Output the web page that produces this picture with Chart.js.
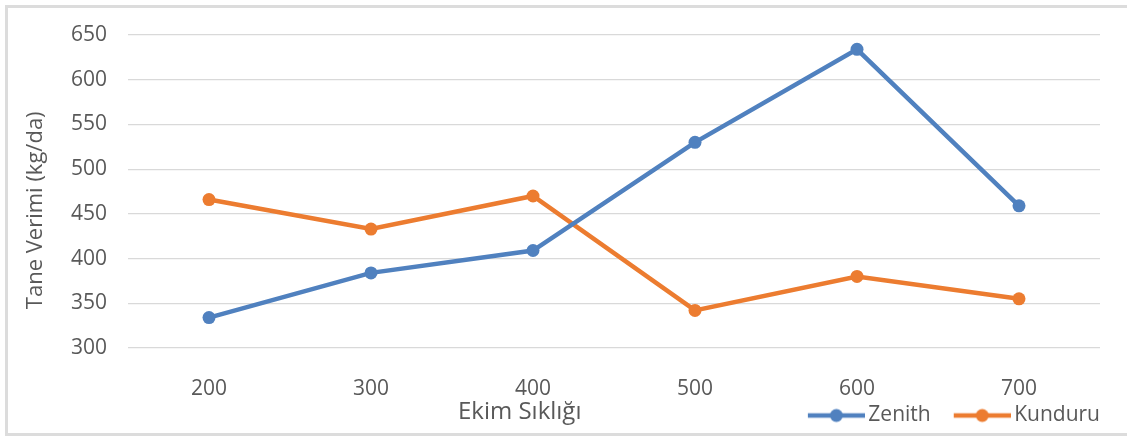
<!DOCTYPE html>
<html lang="tr">
<head>
<meta charset="utf-8">
<title>Tane Verimi</title>
<script src="https://cdn.jsdelivr.net/npm/chart.js@4/dist/chart.umd.min.js"></script>
<style>
  html, body { margin: 0; padding: 0; background: #ffffff; overflow: hidden; }
  #wrap { position: relative; width: 1127px; height: 436px; }
  #chart { position: absolute; left: 0; top: 0; }
  #frame {
    position: absolute; left: 5px; top: 5px; width: 1200px; height: 431px;
    box-sizing: border-box; border: 3px solid #dcdcdc; pointer-events: none;
  }
</style>
</head>
<body>
<div id="wrap">
  <canvas id="chart" width="1127" height="436"></canvas>
  <div id="frame"></div>
</div>
<script>
// Ekim sıklığına göre tane verimi (kg/da)
const categories = ['200', '300', '400', '500', '600', '700'];
const zenith = [334, 384, 409, 530, 634, 459];
const kunduru = [466, 433, 470, 342, 380, 355];
const seriesNames = ['Zenith', 'Kunduru'];
const yTicks = [300, 350, 400, 450, 500, 550, 600, 650];
const xTitle = 'Ekim Sıklığı';
const yTitle = 'Tane Verimi (kg/da)';

const BLUE = '#5081bf';
const ORANGE = '#ec7c30';
const TEXT = '#595959';
const FONT = '"Open Sans", "Liberation Sans", sans-serif';

// Legend swatch: a short line with a dot in the middle, placed in the right
// part of the image so the blank left part spaces the items apart.
function swatch(color) {
  const c = document.createElement('canvas');
  c.width = 87; c.height = 16;
  const g = c.getContext('2d');
  g.strokeStyle = color;
  g.lineWidth = 4.5;
  g.beginPath(); g.moveTo(30, 8); g.lineTo(87, 8); g.stroke();
  g.fillStyle = color;
  g.beginPath(); g.arc(58.5, 8, 6.5, 0, Math.PI * 2); g.fill();
  return c;
}

// Axis captions: the x caption shares the bottom row with the legend.
const axisCaptions = {
  id: 'axisCaptions',
  afterDraw(chart) {
    const { ctx, chartArea: a } = chart;
    ctx.save();
    ctx.fillStyle = TEXT;
    ctx.textBaseline = 'middle';
    ctx.textAlign = 'center';
    ctx.font = '24px ' + FONT;
    ctx.fillText(xTitle, a.left + 0.403 * (a.right - a.left), a.bottom + 64);
    ctx.translate(36, a.top + 0.56 * (a.bottom - a.top));
    ctx.rotate(-Math.PI / 2);
    ctx.font = '22px ' + FONT;
    ctx.fillText(yTitle, 0, 0);
    ctx.restore();
  }
};

const colors = [BLUE, ORANGE];
const swatches = colors.map(swatch);

new Chart(document.getElementById('chart'), {
  type: 'line',
  data: {
    labels: categories,
    datasets: [zenith, kunduru].map((values, i) => ({
      label: seriesNames[i],
      data: values,
      borderColor: colors[i],
      backgroundColor: colors[i],
      borderWidth: 4.5,
      pointRadius: 6.5,
      pointBorderWidth: 0,
      pointBackgroundColor: colors[i],
      tension: 0,
      fill: false
    }))
  },
  options: {
    responsive: false,
    animation: false,
    events: [],
    layout: { padding: { top: 35, right: 27, bottom: 0, left: 0 } },
    plugins: {
      tooltip: { enabled: false },
      legend: {
        position: 'bottom',
        align: 'end',
        labels: {
          usePointStyle: true,
          pointStyleWidth: 73,
          padding: 0,
          color: TEXT,
          font: { family: FONT, size: 21 },
          generateLabels(chart) {
            return chart.data.datasets.map((ds, i) => ({
              text: ds.label,
              pointStyle: swatches[i],
              fillStyle: ds.borderColor,
              strokeStyle: ds.borderColor,
              lineWidth: 0,
              fontColor: TEXT,
              hidden: false,
              datasetIndex: i
            }));
          }
        }
      }
    },
    scales: {
      x: {
        offset: true,
        grid: { display: false },
        border: { display: false },
        ticks: { color: TEXT, font: { family: FONT, size: 21 }, padding: 20 },
        afterFit(scale) { scale.height = 57; }
      },
      y: {
        min: 300,
        max: 650,
        afterBuildTicks(scale) { scale.ticks = yTicks.map(v => ({ value: v })); },
        grid: { color: '#d9d9d9', lineWidth: 1.2, drawTicks: false },
        border: { display: false },
        ticks: { color: TEXT, font: { family: FONT, size: 21 }, padding: 21 },
        afterFit(scale) { scale.width = 128; }
      }
    }
  },
  plugins: [axisCaptions]
});
</script>
</body>
</html>
